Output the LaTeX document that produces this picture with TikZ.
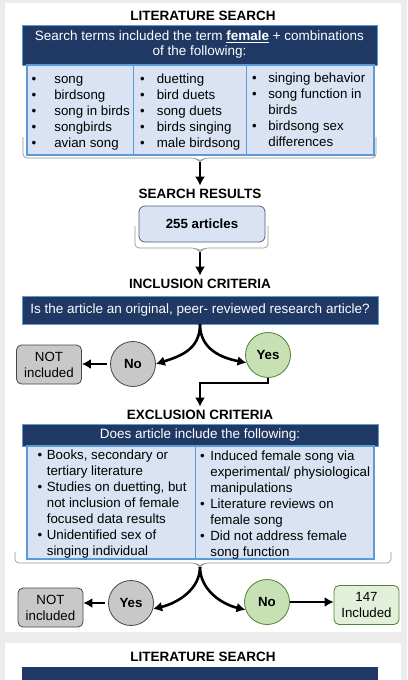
\documentclass[tikz,border=0pt]{standalone}
\usepackage{fontspec}
\setmainfont{Liberation Sans}
\usetikzlibrary{positioning,arrows.meta}

\definecolor{navy}{RGB}{31,56,100}
\definecolor{paleblue}{RGB}{218,227,243}
\definecolor{midblue}{RGB}{91,155,213}
\definecolor{greyfill}{RGB}{200,200,200}
\definecolor{greyline}{RGB}{70,70,70}
\definecolor{greenfill}{RGB}{199,224,180}
\definecolor{greenpale}{RGB}{226,240,217}
\definecolor{greenline}{RGB}{84,130,53}
\definecolor{pagegrey}{RGB}{236,236,236}
\definecolor{bracegrey}{RGB}{150,150,150}

\tikzset{
  heading/.style={font=\fontsize{13.5}{16}\selectfont\bfseries},
  navybar/.style={fill=navy, draw=midblue, line width=0.6pt, text=white, align=center, inner sep=0pt, font=\fontsize{13.5}{15}\selectfont},
  listbox/.style={fill=paleblue, draw=midblue, line width=1.2pt, inner sep=0pt},
  bracket/.style={draw=bracegrey, line width=0.7pt, rounded corners=4pt},
  flow/.style={->, >={Latex[length=9pt,width=10pt]}, line width=2.6pt, black},
  nobubble/.style={circle, minimum size=45, fill=greyfill, draw=greyline, line width=0.8pt, inner sep=0pt, font=\fontsize{13.3}{15}\selectfont\bfseries},
  yesbubble/.style={nobubble, fill=greenfill, draw=greenline},
  outbox/.style={rounded corners=5pt, minimum width=65, minimum height=39, fill=greyfill, draw=greyline, line width=0.8pt, align=center, inner sep=0pt, font=\fontsize{13.3}{16}\selectfont},
  inbox/.style={outbox, fill=greenpale, draw=greenline},
  items/.style={anchor=base west, inner sep=0pt, font=\fontsize{13.3}{16}\selectfont},
}

\begin{document}
\begin{tikzpicture}[x=1pt,y=1pt,yscale=-1]
\useasboundingbox (0,0) rectangle (407,680);

% page and cards
\fill[pagegrey] (0,0) rectangle (407,680);
\fill[white] (5,3) rectangle (401,632);
\fill[white] (5,643) rectangle (401,680);

% Literature search
\node[heading] (littitle) at (203,16) {LITERATURE SEARCH};
\draw[bracket] (23,137) -- (23,158) -- (196,158) -- (200,162) -- (204,158) -- (376,158) -- (376,137);
\coordinate (littip) at (200,162);
\node[navybar, minimum width=355, minimum height=40] (searchbar) at (199.5,45) {Search terms included the term \underline{\textbf{female}} + combinations\\of the following:};
\node[listbox, minimum width=347, minimum height=90] (termsbox) at (200.5,110) {};
\draw[midblue, line width=1pt] (133,65) -- (133,155);
\draw[midblue, line width=1pt] (246,65) -- (246,155);

\node[items] (terms1) at (31.5,83) {\begin{tabular}[t]{@{}l@{\hspace{18pt}}l@{}}
\textbullet & song\\ \textbullet & birdsong\\ \textbullet & song in birds\\ \textbullet & songbirds\\ \textbullet & avian song
\end{tabular}};
\node[items] (terms2) at (140,83) {\begin{tabular}[t]{@{}l@{\hspace{12pt}}l@{}}
\textbullet & duetting\\ \textbullet & bird duets\\ \textbullet & song duets\\ \textbullet & birds singing\\ \textbullet & male birdsong
\end{tabular}};
\node[items] (terms3) at (252,82) {\begin{tabular}[t]{@{}l@{\hspace{11.5pt}}l@{}}
\textbullet & singing behavior\\ \textbullet & song function in\\ & birds\\ \textbullet & birdsong sex\\ & differences
\end{tabular}};

% Search results
\node[heading] (restitle) at (200,194) {SEARCH RESULTS};
\draw[flow] (littip) -- (restitle);
\draw[bracket] (135,226) -- (135,248) -- (196,248) -- (200,252) -- (204,248) -- (268,248) -- (268,226);
\coordinate (restip) at (200,252);
\node[rounded corners=6pt, fill=paleblue, draw=navy!80, line width=0.8pt, minimum width=126, minimum height=36, font=\fontsize{13.3}{16}\selectfont\bfseries] (articles) at (202,224) {255 articles};

% Inclusion criteria
\node[heading] (inctitle) at (200,284) {INCLUSION CRITERIA};
\draw[flow] (restip) -- (inctitle);
\node[navybar, minimum width=356, minimum height=28] (incbar) at (200,310) {Is the article an original, peer- reviewed research article?};
\node[nobubble] (incno) at (133,364) {No};
\node[yesbubble] (incyes) at (268,355) {Yes};
\node[outbox] (incout) at (49,364.5) {NOT\\included};

\draw[flow] (incbar.south) .. controls +(0,25) and +(25,-8) .. (incno.east);
\draw[flow] (incbar.south) .. controls +(0,25) and +(-25,-5) .. (incyes.200);
\draw[flow, shorten <=3pt] (incno.west) -- (incno.west -| incout.east);

% Exclusion criteria
\node[heading] (exctitle) at (200,415) {EXCLUSION CRITERIA};
\draw[flow] (incyes.south) -- ++(0,5) -| (exctitle.north);
\draw[bracket] (15,552) -- (15,563) -- (196,563) -- (200,567) -- (204,563) -- (391,563) -- (391,552);
\coordinate (exctip) at (200,567);
\node[navybar, minimum width=356, minimum height=22] (excbar) at (200,435) {Does article include the following:};
\node[listbox, minimum width=347, minimum height=113] (critbox) at (200.5,502.5) {};
\draw[midblue, line width=1pt] (195,446) -- (195,559);

\node[items] (crit1) at (37.5,459) {\begin{tabular}[t]{@{}l@{\hspace{4.5pt}}l@{}}
\textbullet & Books, secondary or\\ & tertiary literature\\
\textbullet & Studies on duetting, but\\ & not inclusion of female\\ & focused data results\\
\textbullet & Unidentified sex of\\ & singing individual
\end{tabular}};
\node[items] (crit2) at (200,460) {\begin{tabular}[t]{@{}l@{\hspace{5.5pt}}l@{}}
\textbullet & Induced female song via\\ & experimental/ physiological\\ & manipulations\\
\textbullet & Literature reviews on\\ & female song\\
\textbullet & Did not address female\\ & song function
\end{tabular}};

\node[nobubble] (excyes) at (131,603) {Yes};
\node[yesbubble] (excno) at (267,602) {No};
\node[outbox] (excout) at (50.5,607.5) {NOT\\included};
\node[inbox] (excin) at (366.5,605) {147\\Included};

\draw[flow] (exctip) .. controls +(0,22) and +(25,-6) .. (excyes.-15);
\draw[flow] (exctip) .. controls +(0,22) and +(-25,-6) .. (excno.200);
\draw[flow, shorten <=3pt] (excyes.west) -- (excyes.west -| excout.east);
\draw[flow] (excno.east) -- (excno.east -| excin.west);

% next card
\node[heading] (nexttitle) at (203,657) {LITERATURE SEARCH};
\fill[navy] (22,667) rectangle (378,680);

\end{tikzpicture}
\end{document}
